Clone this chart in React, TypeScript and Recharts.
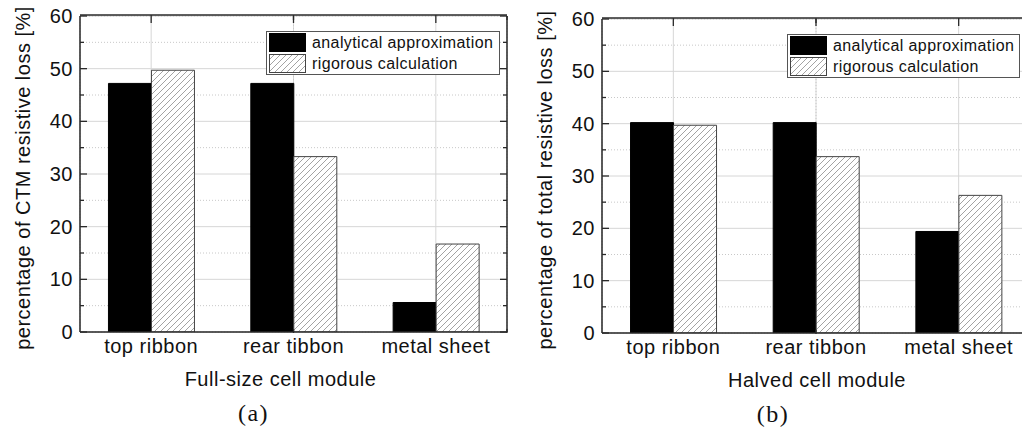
import { BarChart, Bar, XAxis, YAxis, CartesianGrid, Legend, Label } from "recharts";

// categories on the x axis
const categories = ["top ribbon", "rear tibbon", "metal sheet"];

// (a) full-size cell module, % of CTM resistive loss
const fullAnalytical = [47.2, 47.2, 5.6];
const fullRigorous = [49.7, 33.3, 16.7];

// (b) halved cell module, % of total resistive loss
const halvedAnalytical = [40.2, 40.2, 19.4];
const halvedRigorous = [39.7, 33.7, 26.3];

const yTicks = [0, 5, 10, 15, 20, 25, 30, 35, 40, 45, 50, 55, 60];
const majorY = [10, 20, 30, 40, 50];
const minorY = [5, 15, 25, 35, 45, 55];
// boundaries between categories, on a 0..3 position axis
const boundaries = [1, 2];

const seriesNames = ["analytical approximation", "rigorous calculation"];

const FONT = "Arial, 'Liberation Sans', sans-serif";
const AXIS = "#2a2a2a";
const TEXT = "#111";
const FS = 20;
const LS = 0.5;

const buildData = (a: number[], r: number[]) =>
  categories.map((name, i) => ({ name, analytical: a[i], rigorous: r[i] }));

const LeftTick = (props: any) => {
  const { x, y, payload } = props;
  const major = payload.value % 10 === 0;
  return (
    <g>
      <line x1={x} x2={x + (major ? 7 : 4)} y1={y} y2={y} stroke={AXIS} strokeWidth={1.3} />
      {major && (
        <text x={x - 7} y={y} dy={7} textAnchor="end" fontSize={FS} letterSpacing={LS} fontFamily={FONT} fill={TEXT}>
          {payload.value}
        </text>
      )}
    </g>
  );
};

const RightTick = (props: any) => {
  const { x, y, payload } = props;
  const major = payload.value % 10 === 0;
  return <line x1={x} x2={x - (major ? 7 : 4)} y1={y} y2={y} stroke={AXIS} strokeWidth={1.3} />;
};

const BottomLabel = (props: any) => {
  const { x, y, payload } = props;
  return (
    <text x={x} y={y + 21} textAnchor="middle" fontSize={FS} letterSpacing={LS} fontFamily={FONT} fill={TEXT}>
      {payload.value}
    </text>
  );
};

const tickDown = (len: number) => (props: any) => {
  const { x, y } = props;
  return <line x1={x} x2={x} y1={y} y2={y + len} stroke={AXIS} strokeWidth={1.3} />;
};

const tickUp = (len: number) => (props: any) => {
  const { x, y } = props;
  return <line x1={x} x2={x} y1={y} y2={y - len} stroke={AXIS} strokeWidth={1.3} />;
};

const HatchDefs = ({ id }: { id: string }) => (
  <defs>
    <pattern id={id} patternUnits="userSpaceOnUse" width={6} height={6}>
      <rect width={6} height={6} fill="#fff" />
      <path d="M-1,1 L1,-1 M0,6 L6,0 M5,7 L7,5" stroke="#8c8c8c" strokeWidth={0.8} />
    </pattern>
  </defs>
);

const LegendBox = ({ hatchId }: { hatchId: string }) => (
  <div
    style={{
      border: "1px solid #555",
      background: "#fff",
      padding: "0 2px 1px 2px",
      fontFamily: FONT,
      fontSize: 16,
      letterSpacing: 0.4,
      color: TEXT,
      lineHeight: "19px",
    }}
  >
    {seriesNames.map((n, i) => (
      <div key={n} style={{ display: "flex", alignItems: "center", marginTop: i === 0 ? 1 : 2 }}>
        <svg width={37} height={19} style={{ marginRight: 6, display: "block" }}>
          <defs>
            <pattern id={hatchId + "-lg"} patternUnits="userSpaceOnUse" width={6} height={6}>
              <rect width={6} height={6} fill="#fff" />
              <path d="M-1,1 L1,-1 M0,6 L6,0 M5,7 L7,5" stroke="#8c8c8c" strokeWidth={0.8} />
            </pattern>
          </defs>
          <rect
            x={0.5}
            y={0.5}
            width={36}
            height={18}
            fill={i === 0 ? "#000" : `url(#${hatchId}-lg)`}
            stroke={i === 0 ? "#000" : "#444"}
          />
        </svg>
        <span>{n}</span>
      </div>
    ))}
  </div>
);

type PanelProps = {
  id: string;
  left: number;
  width: number;
  margin: { top: number; right: number; bottom: number; left: number };
  analytical: number[];
  rigorous: number[];
  yLabel: string;
  xLabel: string;
  xLabelDx: number;
  caption: string;
  captionDx: number;
  legendLeft: number;
  legendTop: number;
  legendWidth: number;
};

const axisLine = { stroke: AXIS, strokeWidth: 1.5 };

function Panel(p: PanelProps) {
  const data = buildData(p.analytical, p.rigorous);
  const hatchId = `hatch-${p.id}`;
  return (
    <div style={{ position: "absolute", left: p.left, top: 0 }}>
      <BarChart width={p.width} height={430} data={data} margin={p.margin} barCategoryGap="20%" barGap={0}>
        <HatchDefs id={hatchId} />
        <CartesianGrid yAxisId="major" stroke="#d6d6d6" strokeWidth={1} />
        <CartesianGrid xAxisId="bb" yAxisId="minor" stroke="#c8c8c8" strokeDasharray="1 2" strokeWidth={1} />

        <XAxis dataKey="name" height={1} tickSize={0} tickMargin={0} tickLine={false} axisLine={axisLine} tick={BottomLabel} interval={0}>
          <Label
            content={({ viewBox }: any) => (
              <g fontFamily={FONT}>
                <text
                  x={viewBox.x + viewBox.width / 2 + p.xLabelDx}
                  y={viewBox.y + 54}
                  textAnchor="middle"
                  fontSize={FS}
                  letterSpacing={LS}
                  fill={TEXT}
                >
                  {p.xLabel}
                </text>
                <text
                  x={viewBox.x + viewBox.width / 2 + p.captionDx}
                  y={viewBox.y + 89}
                  textAnchor="middle"
                  fontSize={24}
                  letterSpacing={1.5}
                  fontFamily="'Times New Roman', 'Liberation Serif', serif"
                  fill={TEXT}
                >
                  {p.caption}
                </text>
              </g>
            )}
          />
        </XAxis>
        <XAxis xAxisId="top" orientation="top" dataKey="name" height={1} tickSize={0} tickMargin={0} tickLine={false} axisLine={axisLine} tick={tickDown(8)} interval={0} />
        <XAxis xAxisId="bb" type="number" domain={[0, 3]} ticks={boundaries} allowDataOverflow height={1} tickSize={0} tickMargin={0} tickLine={false} axisLine={false} tick={tickUp(4)} interval={0} />
        <XAxis xAxisId="bt" orientation="top" type="number" domain={[0, 3]} ticks={boundaries} allowDataOverflow height={1} tickSize={0} tickMargin={0} tickLine={false} axisLine={false} tick={tickDown(4)} interval={0} />

        <YAxis width={1} domain={[0, 60]} ticks={yTicks} interval={0} allowDataOverflow tickSize={0} tickMargin={0} tickLine={false} axisLine={axisLine} tick={LeftTick}>
          <Label
            content={({ viewBox }: any) => {
              const cx = viewBox.x + viewBox.width - 57;
              const cy = viewBox.y + viewBox.height / 2 + 4;
              return (
                <text
                  x={cx}
                  y={cy}
                  transform={`rotate(-90 ${cx} ${cy})`}
                  textAnchor="middle"
                  dominantBaseline="central"
                  fontSize={FS}
                  letterSpacing={LS}
                  fontFamily={FONT}
                  fill={TEXT}
                >
                  {p.yLabel}
                </text>
              );
            }}
          />
        </YAxis>
        <YAxis yAxisId="right" orientation="right" width={1} domain={[0, 60]} ticks={yTicks} interval={0} allowDataOverflow tickSize={0} tickMargin={0} tickLine={false} axisLine={axisLine} tick={RightTick} />
        <YAxis yAxisId="major" hide domain={[0, 60]} ticks={majorY} interval={0} allowDataOverflow />
        <YAxis yAxisId="minor" hide domain={[0, 60]} ticks={minorY} interval={0} allowDataOverflow />

        <Legend
          layout="horizontal"
          verticalAlign="middle"
          align="center"
          content={() => <LegendBox hatchId={hatchId} />}
          wrapperStyle={{ left: p.legendLeft, top: p.legendTop, right: "auto", bottom: "auto", width: p.legendWidth }}
        />
        <Bar dataKey="analytical" name={seriesNames[0]} fill="#000" stroke="#000" strokeWidth={1} isAnimationActive={false} />
        <Bar dataKey="rigorous" name={seriesNames[1]} fill={`url(#${hatchId})`} stroke="#444" strokeWidth={1} isAnimationActive={false} />
      </BarChart>
    </div>
  );
}

export default function App() {
  return (
    <div style={{ position: "absolute", left: 0, top: 0, width: 1022, height: 430, overflow: "hidden", background: "#fff" }}>
      <Panel
        id="a"
        left={0}
        width={520}
        margin={{ top: 14, right: 12, bottom: 96, left: 79 }}
        analytical={fullAnalytical}
        rigorous={fullRigorous}
        yLabel="percentage of CTM resistive loss [%]"
        xLabel="Full-size cell module"
        xLabelDx={-13}
        caption="(a)"
        captionDx={-40}
        legendLeft={266}
        legendTop={31}
        legendWidth={234}
      />
      <Panel
        id="b"
        left={510}
        width={530}
        margin={{ top: 17, right: 9, bottom: 95, left: 91 }}
        analytical={halvedAnalytical}
        rigorous={halvedRigorous}
        yLabel="percentage of total resistive loss [%]"
        xLabel="Halved cell module"
        xLabelDx={1}
        caption="(b)"
        captionDx={-43}
        legendLeft={277}
        legendTop={34}
        legendWidth={233}
      />
    </div>
  );
}
